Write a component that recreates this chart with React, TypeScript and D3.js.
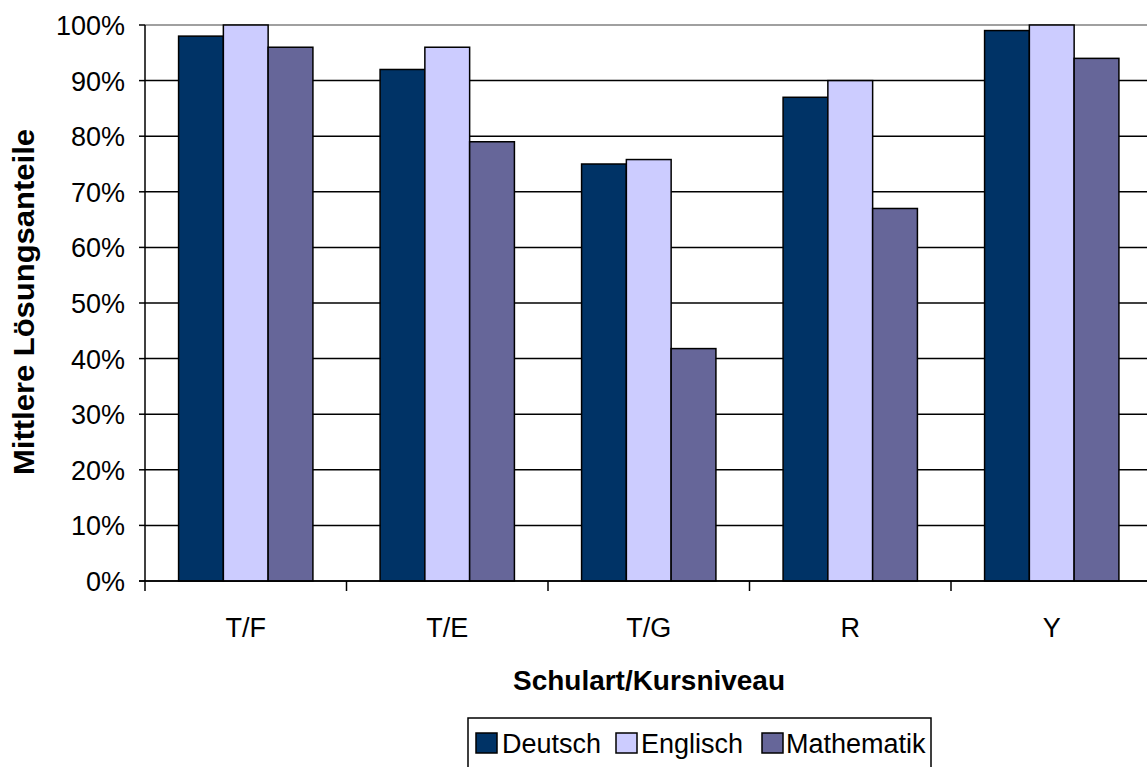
import React from "react";
import * as d3 from "d3";

const categories = ["T/F", "T/E", "T/G", "R", "Y"];
const seriesNames = ["Deutsch", "Englisch", "Mathematik"];
const deutsch = [0.98, 0.92, 0.75, 0.87, 0.99];
const englisch = [1.0, 0.96, 0.758, 0.9, 1.0];
const mathematik = [0.96, 0.79, 0.418, 0.67, 0.94];
const yTicks = [0, 0.1, 0.2, 0.3, 0.4, 0.5, 0.6, 0.7, 0.8, 0.9, 1.0];
const colors = ["#003366", "#CCCCFF", "#666699"];

const W = 1147;
const H = 767;
const left = 145;
const right = 1152.5;
const top = 25;
const bottom = 581;
const font = "'Liberation Sans', Arial, sans-serif";

export default function App() {
  const values = [deutsch, englisch, mathematik];
  const x = d3.scaleBand<string>().domain(categories).range([left, right]).paddingInner(0).paddingOuter(0);
  const xi = d3
    .scaleBand<string>()
    .domain(seriesNames)
    .range([0, x.bandwidth()])
    .paddingInner(0)
    .paddingOuter(0.75);
  const y = d3.scaleLinear().domain([0, 1]).range([bottom, top]);
  const fmt = d3.format(".0%");

  const legendItems = [
    { name: "Deutsch", sx: 476, tx: 502 },
    { name: "Englisch", sx: 616, tx: 641 },
    { name: "Mathematik", sx: 762, tx: 786 },
  ];

  return (
    <svg width={W} height={H} style={{ position: "absolute", left: 0, top: 0 }} fontFamily={font}>
      <rect x={0} y={0} width={W} height={H} fill="#fff" />
      {/* gridlines */}
      {yTicks.map((t) => (
        <line
          key={"g" + t}
          x1={left}
          x2={W}
          y1={y(t)}
          y2={y(t)}
          stroke={t === 1 ? "#808080" : "#000"}
          strokeWidth={1.5}
        />
      ))}
      {/* bars */}
      {categories.map((c, ci) => (
        <g key={c}>
          {seriesNames.map((s, si) => {
            const v = values[si][ci];
            const bx = (x(c) as number) + (xi(s) as number);
            return (
              <rect
                key={s}
                x={bx}
                y={y(v)}
                width={xi.bandwidth()}
                height={bottom - y(v)}
                fill={colors[si]}
                stroke="#000"
                strokeWidth={1.5}
              />
            );
          })}
        </g>
      ))}
      {/* y axis */}
      <line x1={left} x2={left} y1={top} y2={bottom} stroke="#000" strokeWidth={1.5} />
      {yTicks.map((t) => (
        <g key={"t" + t}>
          <line x1={left - 6} x2={left} y1={y(t)} y2={y(t)} stroke="#000" strokeWidth={1.5} />
          <text x={125} y={y(t) + 10} textAnchor="end" fontSize={27} fill="#000">
            {fmt(t)}
          </text>
        </g>
      ))}
      {/* x axis */}
      <line x1={left - 6} x2={W} y1={bottom} y2={bottom} stroke="#000" strokeWidth={1.5} />
      {categories.map((c) => (
        <line
          key={"xt" + c}
          x1={x(c) as number}
          x2={x(c) as number}
          y1={bottom}
          y2={bottom + 10}
          stroke="#000"
          strokeWidth={1.5}
        />
      ))}
      {categories.map((c) => (
        <text
          key={"xl" + c}
          x={(x(c) as number) + x.bandwidth() / 2}
          y={637}
          textAnchor="middle"
          fontSize={27}
          fill="#000"
        >
          {c}
        </text>
      ))}
      {/* axis titles */}
      <text
        x={649}
        y={690}
        textAnchor="middle"
        fontSize={28}
        fontWeight="bold"
        fill="#000"
        textLength={272}
        lengthAdjust="spacingAndGlyphs"
      >
        Schulart/Kursniveau
      </text>
      <text
        transform={`translate(34, 302) rotate(-90)`}
        textAnchor="middle"
        fontSize={30}
        fontWeight="bold"
        fill="#000"
        textLength={346}
        lengthAdjust="spacingAndGlyphs"
      >
        Mittlere Lösungsanteile
      </text>
      {/* legend */}
      <rect x={468} y={718} width={463} height={60} fill="#fff" stroke="#000" strokeWidth={1.5} />
      {legendItems.map((li, i) => (
        <g key={li.name}>
          <rect x={li.sx} y={733} width={21} height={20} fill={colors[i]} stroke="#000" strokeWidth={1.5} />
          <text x={li.tx} y={753} fontSize={27} fill="#000">
            {li.name}
          </text>
        </g>
      ))}
    </svg>
  );
}
